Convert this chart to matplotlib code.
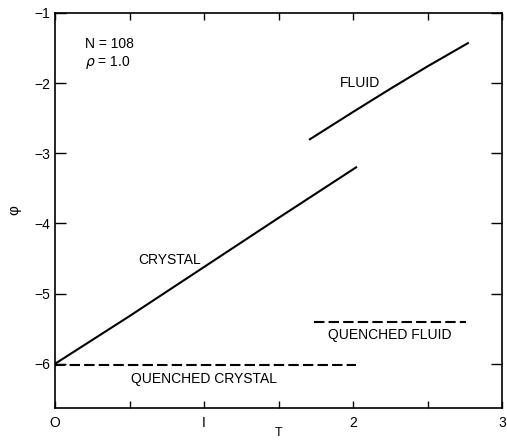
import numpy as np
import matplotlib
matplotlib.use("Agg")
import matplotlib.pyplot as plt
from matplotlib.ticker import MultipleLocator

plt.rcParams['font.family'] = ['Liberation Sans', 'DejaVu Sans']

# crystal branch
crystal_T = [0.0, 0.5, 1.0, 1.5, 2.02]
crystal_phi = [-6.0, -5.32, -4.62, -3.92, -3.2]

# fluid branch
fluid_T = [1.71, 2.0, 2.25, 2.5, 2.77]
fluid_phi = [-2.8, -2.41, -2.08, -1.76, -1.43]

# quenched states (constant)
qcrystal_T = [0.0, 2.02]
qcrystal_phi = [-6.02, -6.02]
qfluid_T = [1.74, 2.76]
qfluid_phi = [-5.4, -5.4]

fig = plt.figure(figsize=(5.07, 4.40), dpi=100)
ax = fig.add_axes([0.1085, 0.0727, 0.882, 0.8978])

ax.plot(crystal_T, crystal_phi, color='black', lw=1.5)
ax.plot(fluid_T, fluid_phi, color='black', lw=1.5)
ax.plot(qcrystal_T, qcrystal_phi, color='black', lw=1.5, dashes=(5, 2))
ax.plot(qfluid_T, qfluid_phi, color='black', lw=1.5, dashes=(5, 2))

ax.set_xlim(0, 3)
ax.set_ylim(-6.63, -1)
ax.xaxis.set_minor_locator(MultipleLocator(0.5))
ax.set_xticks([0, 1, 2, 3])
ax.set_xticklabels(['O', 'I', '2', '3'], fontsize=10)
ax.set_yticks([-6, -5, -4, -3, -2, -1])
ax.set_yticklabels(['\u22126', '\u22125', '\u22124', '\u22123', '\u22122', '\u22121'], fontsize=10)
ax.tick_params(which='both', direction='in', top=True, right=True, length=5, width=1)
ax.tick_params(axis='y', length=8)
ax.tick_params(axis='x', pad=6)
for s in ax.spines.values():
    s.set_linewidth(1.2)

ax.set_xlabel('T', fontsize=9)
ax.xaxis.set_label_coords(0.5, -0.048)
ax.set_ylabel('\u03c6', fontsize=11, rotation=90)
ax.yaxis.set_label_coords(-0.075, 0.5)

ax.text(0.2, -1.5, 'N = 108', fontsize=10)
ax.text(0.2, -1.76, r'$\rho$ = 1.0', fontsize=10)
ax.text(1.91, -2.05, 'FLUID', fontsize=10)
ax.text(0.56, -4.58, 'CRYSTAL', fontsize=10)
ax.text(0.51, -6.27, 'QUENCHED CRYSTAL', fontsize=10)
ax.text(1.83, -5.65, 'QUENCHED FLUID', fontsize=10)

fig.savefig('out.png', dpi=100)
